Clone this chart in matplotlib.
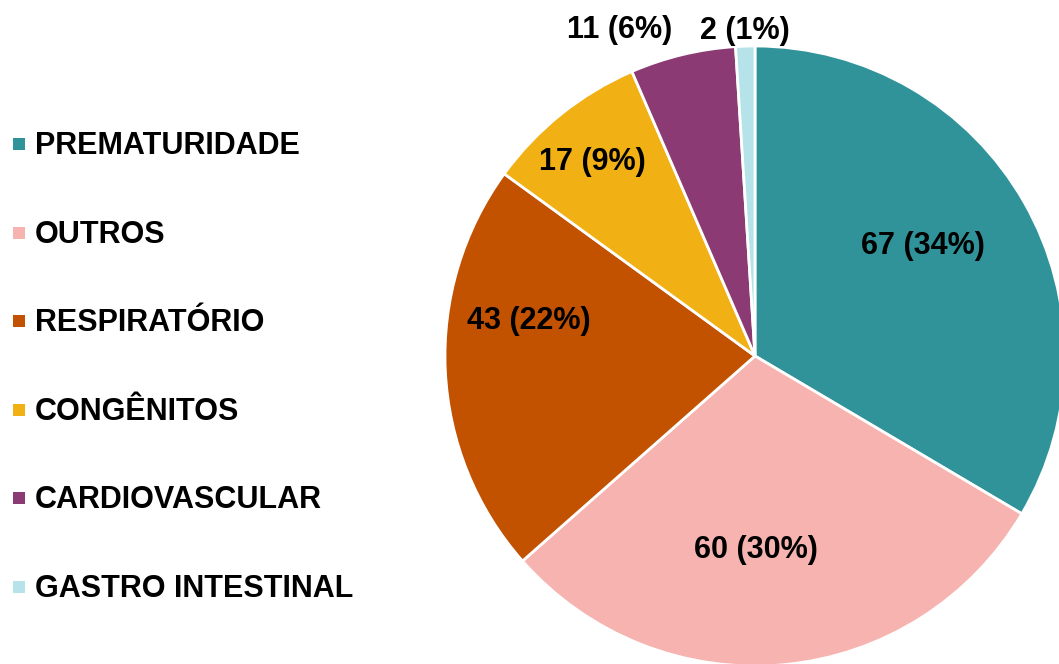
import numpy as np
import matplotlib
matplotlib.use("Agg")
import matplotlib.pyplot as plt

# data
categories = ["PREMATURIDADE", "OUTROS", "RESPIRATÓRIO", "CONGÊNITOS",
              "CARDIOVASCULAR", "GASTRO INTESTINAL"]
values = [67, 60, 43, 17, 11, 2]
percents = [34, 30, 22, 9, 6, 1]

colors = ["#31939A", "#F6B3AF", "#C25100", "#F1B114", "#8C3A73", "#B5E3E9"]

# label placement (fraction of radius, angle tweak in degrees)
label_r = [0.65, 0.62, 0.74, 0.82, 1.145, 1.055]
label_dang = [4, -5, -12, 1, 9, 0]

plt.rcParams["font.family"] = ["Liberation Sans", "DejaVu Sans"]

W, H = 1059, 664
fig = plt.figure(figsize=(W / 100, H / 100), dpi=100)
ax = fig.add_axes([0, 0, 1, 1])

cx, cy, R = 755, H - 356, 310
wedges, _ = ax.pie(values, colors=colors, startangle=90, counterclock=False,
                   center=(cx, cy), radius=R,
                   wedgeprops=dict(edgecolor="white", linewidth=2))

for w, v, p, rf, da in zip(wedges, values, percents, label_r, label_dang):
    mid = np.deg2rad((w.theta1 + w.theta2) / 2 + da)
    ax.text(cx + rf * R * np.cos(mid), cy + rf * R * np.sin(mid) - 2,
            f"{v} ({p}%)", ha="center", va="center",
            fontsize=22, fontweight="bold", color="black")

# legend drawn by hand on the left
for i, (c, name) in enumerate(zip(colors, categories)):
    y = H - (144 + i * 88.6)
    ax.add_patch(plt.Rectangle((13, y - 6), 12, 12, facecolor=c, edgecolor="none"))
    ax.text(35, y - 2, name, ha="left", va="center", fontsize=22,
            fontweight="bold", color="black")

ax.set_xlim(0, W)
ax.set_ylim(0, H)
ax.set_aspect("equal")
ax.axis("off")

fig.savefig("out.png", dpi=100)
